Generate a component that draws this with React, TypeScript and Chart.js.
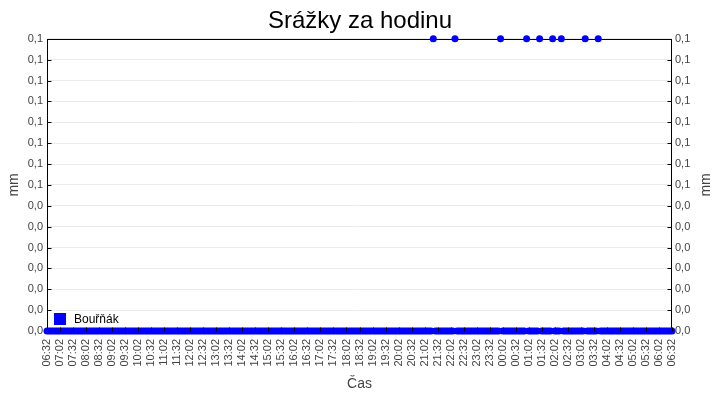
import React, { useEffect, useRef } from 'react';
import { Chart, registerables } from 'chart.js';

Chart.register(...registerables);

const TITLE = 'Srážky za hodinu';
const SERIES_NAME = 'Bouřňák';
const X_TITLE = 'Čas';
const Y_TITLE = 'mm';
const FONT = '"Liberation Sans", Arial, sans-serif';

// Measurement times (every 5 minutes), one row per hour
const times = [
  '06:32', '06:37', '06:42', '06:47', '06:52', '06:57',
  '07:02', '07:07', '07:12', '07:17', '07:22', '07:27', '07:32', '07:37', '07:42', '07:47', '07:52', '07:57',
  '08:02', '08:07', '08:12', '08:17', '08:22', '08:27', '08:32', '08:37', '08:42', '08:47', '08:52', '08:57',
  '09:02', '09:07', '09:12', '09:17', '09:22', '09:27', '09:32', '09:37', '09:42', '09:47', '09:52', '09:57',
  '10:02', '10:07', '10:12', '10:17', '10:22', '10:27', '10:32', '10:37', '10:42', '10:47', '10:52', '10:57',
  '11:02', '11:07', '11:12', '11:17', '11:22', '11:27', '11:32', '11:37', '11:42', '11:47', '11:52', '11:57',
  '12:02', '12:07', '12:12', '12:17', '12:22', '12:27', '12:32', '12:37', '12:42', '12:47', '12:52', '12:57',
  '13:02', '13:07', '13:12', '13:17', '13:22', '13:27', '13:32', '13:37', '13:42', '13:47', '13:52', '13:57',
  '14:02', '14:07', '14:12', '14:17', '14:22', '14:27', '14:32', '14:37', '14:42', '14:47', '14:52', '14:57',
  '15:02', '15:07', '15:12', '15:17', '15:22', '15:27', '15:32', '15:37', '15:42', '15:47', '15:52', '15:57',
  '16:02', '16:07', '16:12', '16:17', '16:22', '16:27', '16:32', '16:37', '16:42', '16:47', '16:52', '16:57',
  '17:02', '17:07', '17:12', '17:17', '17:22', '17:27', '17:32', '17:37', '17:42', '17:47', '17:52', '17:57',
  '18:02', '18:07', '18:12', '18:17', '18:22', '18:27', '18:32', '18:37', '18:42', '18:47', '18:52', '18:57',
  '19:02', '19:07', '19:12', '19:17', '19:22', '19:27', '19:32', '19:37', '19:42', '19:47', '19:52', '19:57',
  '20:02', '20:07', '20:12', '20:17', '20:22', '20:27', '20:32', '20:37', '20:42', '20:47', '20:52', '20:57',
  '21:02', '21:07', '21:12', '21:17', '21:22', '21:27', '21:32', '21:37', '21:42', '21:47', '21:52', '21:57',
  '22:02', '22:07', '22:12', '22:17', '22:22', '22:27', '22:32', '22:37', '22:42', '22:47', '22:52', '22:57',
  '23:02', '23:07', '23:12', '23:17', '23:22', '23:27', '23:32', '23:37', '23:42', '23:47', '23:52', '23:57',
  '00:02', '00:07', '00:12', '00:17', '00:22', '00:27', '00:32', '00:37', '00:42', '00:47', '00:52', '00:57',
  '01:02', '01:07', '01:12', '01:17', '01:22', '01:27', '01:32', '01:37', '01:42', '01:47', '01:52', '01:57',
  '02:02', '02:07', '02:12', '02:17', '02:22', '02:27', '02:32', '02:37', '02:42', '02:47', '02:52', '02:57',
  '03:02', '03:07', '03:12', '03:17', '03:22', '03:27', '03:32', '03:37', '03:42', '03:47', '03:52', '03:57',
  '04:02', '04:07', '04:12', '04:17', '04:22', '04:27', '04:32', '04:37', '04:42', '04:47', '04:52', '04:57',
  '05:02', '05:07', '05:12', '05:17', '05:22', '05:27', '05:32', '05:37', '05:42', '05:47', '05:52', '05:57',
  '06:02', '06:07', '06:12', '06:17', '06:22', '06:27', '06:32',
];

// Precipitation per hour (mm), aligned with `times`
const rain = [
  0, 0, 0, 0, 0, 0, // 06
  0, 0, 0, 0, 0, 0, 0, 0, 0, 0, 0, 0, // 07
  0, 0, 0, 0, 0, 0, 0, 0, 0, 0, 0, 0, // 08
  0, 0, 0, 0, 0, 0, 0, 0, 0, 0, 0, 0, // 09
  0, 0, 0, 0, 0, 0, 0, 0, 0, 0, 0, 0, // 10
  0, 0, 0, 0, 0, 0, 0, 0, 0, 0, 0, 0, // 11
  0, 0, 0, 0, 0, 0, 0, 0, 0, 0, 0, 0, // 12
  0, 0, 0, 0, 0, 0, 0, 0, 0, 0, 0, 0, // 13
  0, 0, 0, 0, 0, 0, 0, 0, 0, 0, 0, 0, // 14
  0, 0, 0, 0, 0, 0, 0, 0, 0, 0, 0, 0, // 15
  0, 0, 0, 0, 0, 0, 0, 0, 0, 0, 0, 0, // 16
  0, 0, 0, 0, 0, 0, 0, 0, 0, 0, 0, 0, // 17
  0, 0, 0, 0, 0, 0, 0, 0, 0, 0, 0, 0, // 18
  0, 0, 0, 0, 0, 0, 0, 0, 0, 0, 0, 0, // 19
  0, 0, 0, 0, 0, 0, 0, 0, 0, 0, 0, 0, // 20
  0, 0, 0, 0, 0.1, 0, 0, 0, 0, 0, 0, 0, // 21
  0, 0, 0.1, 0, 0, 0, 0, 0, 0, 0, 0, 0, // 22
  0, 0, 0, 0, 0, 0, 0, 0, 0, 0, 0, 0.1, // 23
  0, 0, 0, 0, 0, 0, 0, 0, 0, 0, 0, 0.1, // 00
  0, 0, 0, 0, 0, 0.1, 0, 0, 0, 0, 0, 0.1, // 01
  0, 0, 0, 0.1, 0, 0, 0, 0, 0, 0, 0, 0, // 02
  0, 0, 0.1, 0, 0, 0, 0, 0, 0.1, 0, 0, 0, // 03
  0, 0, 0, 0, 0, 0, 0, 0, 0, 0, 0, 0, // 04
  0, 0, 0, 0, 0, 0, 0, 0, 0, 0, 0, 0, // 05
  0, 0, 0, 0, 0, 0, 0, // 06
];

// Labelled x ticks (every 30 minutes)
const tickLabels = [
  '06:32', '07:02', '07:32', '08:02', '08:32', '09:02', '09:32', '10:02', '10:32',
  '11:02', '11:32', '12:02', '12:32', '13:02', '13:32', '14:02', '14:32', '15:02',
  '15:32', '16:02', '16:32', '17:02', '17:32', '18:02', '18:32', '19:02', '19:32',
  '20:02', '20:32', '21:02', '21:32', '22:02', '22:32', '23:02', '23:32', '00:02',
  '00:32', '01:02', '01:32', '02:02', '02:32', '03:02', '03:32', '04:02', '04:32',
  '05:02', '05:32', '06:02', '06:32',
];

const Y_MIN = 0;
const Y_MAX = 0.1;
const Y_TICK_COUNT = 15;

const fmtY = (v: number) =>
  (Math.round(v * 10 + 1e-9) / 10).toFixed(1).replace('.', ',');

const framePlugin = {
  id: 'frame',
  beforeDatasetsDraw(chart: any) {
    const { ctx, chartArea: a } = chart;
    ctx.save();
    ctx.strokeStyle = '#000';
    ctx.lineWidth = 1;
    ctx.strokeRect(
      Math.round(a.left) + 0.5,
      Math.round(a.top) + 0.5,
      Math.round(a.right) - Math.round(a.left) - 1,
      Math.round(a.bottom) - Math.round(a.top)
    );
    ctx.restore();
  },
};

const innerTicksPlugin = {
  id: 'innerTicks',
  afterDatasetsDraw(chart: any) {
    const { ctx, chartArea: a, scales } = chart;
    const L = Math.round(a.left) + 0.5;
    const R = Math.round(a.right) - 0.5;
    const B = Math.round(a.bottom) + 0.5;
    ctx.save();
    ctx.strokeStyle = '#000';
    ctx.lineWidth = 1;
    ctx.beginPath();
    const ys = scales.y;
    ys.ticks.forEach((_t: any, i: number) => {
      const py = Math.round(ys.getPixelForTick(i)) + 0.5;
      ctx.moveTo(L, py);
      ctx.lineTo(L + 4, py);
      ctx.moveTo(R, py);
      ctx.lineTo(R - 4, py);
    });
    const xs = scales.x;
    xs.ticks.forEach((t: any, i: number) => {
      const lab = String(xs.getLabelForValue(t.value));
      if (!tickLabels.includes(lab)) return;
      const px = Math.round(xs.getPixelForTick(i)) + 0.5;
      ctx.moveTo(px, B);
      ctx.lineTo(px, B - 4);
    });
    ctx.stroke();
    ctx.restore();
  },
};

const extrasPlugin = {
  id: 'extras',
  afterDraw(chart: any) {
    const { ctx, chartArea: a } = chart;
    const ds = chart.data.datasets[0];
    ctx.save();
    // legend inside the plot, bottom-left
    const boxX = a.left + 7;
    const boxY = a.bottom - 18;
    ctx.fillStyle = ds.pointBackgroundColor;
    ctx.fillRect(boxX, boxY, 12, 12);
    ctx.fillStyle = '#000';
    ctx.font = `12px ${FONT}`;
    ctx.textBaseline = 'middle';
    ctx.textAlign = 'left';
    ctx.fillText(ds.label, boxX + 20, boxY + 6.5);
    // right axis title, reading bottom-to-top like the left one
    ctx.fillStyle = '#444';
    ctx.font = `14px ${FONT}`;
    ctx.textAlign = 'center';
    ctx.translate(chart.width - 14, (a.top + a.bottom) / 2);
    ctx.rotate(-Math.PI / 2);
    ctx.fillText(Y_TITLE, 0, 0);
    ctx.restore();
  },
};

export default function App() {
  const ref = useRef<HTMLCanvasElement | null>(null);

  useEffect(() => {
    if (!ref.current) return;
    const tickFont = { family: FONT, size: 11 };
    const titleFont = { family: FONT, size: 14 };
    const chart = new Chart(ref.current, {
      type: 'line',
      data: {
        labels: times,
        datasets: [
          {
            label: SERIES_NAME,
            data: rain,
            showLine: false,
            pointRadius: 3.5,
            pointHoverRadius: 3.5,
            pointBorderWidth: 0,
            pointBackgroundColor: '#0000ff',
            pointBorderColor: '#0000ff',
            backgroundColor: '#0000ff',
            borderColor: '#0000ff',
            clip: false as any,
          },
        ],
      },
      options: {
        animation: false,
        responsive: false,
        maintainAspectRatio: false,
        devicePixelRatio: 1,
        layout: { padding: 0 },
        plugins: {
          legend: { display: false },
          tooltip: { enabled: false },
          title: {
            display: true,
            text: TITLE,
            color: '#000',
            font: { family: FONT, size: 24, weight: 'normal' as any },
            padding: { top: 7, bottom: 3 },
          },
        },
        scales: {
          x: {
            type: 'category',
            position: 'bottom',
            offset: false,
            grid: { display: false, drawTicks: false },
            border: { display: false },
            ticks: {
              autoSkip: false,
              maxRotation: 90,
              minRotation: 90,
              padding: 8,
              color: '#444',
              font: tickFont,
              callback: function (this: any, value: any) {
                const lab = String(this.getLabelForValue(value));
                return tickLabels.includes(lab) ? lab : '';
              },
            },
            title: {
              display: true,
              text: X_TITLE,
              color: '#444',
              font: titleFont,
              padding: { top: 0, bottom: 7 },
            },
            afterFit: (s: any) => {
              s.height = 69;
            },
          },
          y: {
            type: 'linear',
            position: 'left',
            min: Y_MIN,
            max: Y_MAX,
            grid: { color: '#ebebeb', drawTicks: false },
            border: { display: false },
            ticks: {
              count: Y_TICK_COUNT,
              autoSkip: false,
              padding: 4,
              color: '#444',
              font: tickFont,
              callback: (v: any) => fmtY(Number(v)),
            },
            title: {
              display: true,
              text: Y_TITLE,
              color: '#444',
              font: titleFont,
              padding: { top: 6, bottom: 0 },
            },
            afterFit: (s: any) => {
              s.width = 47;
            },
          },
          y2: {
            type: 'linear',
            axis: 'y',
            position: 'right',
            min: Y_MIN,
            max: Y_MAX,
            grid: { display: false, drawTicks: false },
            border: { display: false },
            ticks: {
              count: Y_TICK_COUNT,
              autoSkip: false,
              padding: 3,
              color: '#444',
              font: tickFont,
              callback: (v: any) => fmtY(Number(v)),
            },
            title: { display: false },
            afterFit: (s: any) => {
              s.width = 48;
            },
          },
        } as any,
      },
      plugins: [framePlugin, innerTicksPlugin, extrasPlugin],
    });
    return () => chart.destroy();
  }, []);

  return (
    <div style={{ position: 'absolute', left: 0, top: 0, width: 720, height: 400, background: '#fff' }}>
      <canvas ref={ref} width={720} height={400} style={{ display: 'block', width: 720, height: 400 }} />
    </div>
  );
}
